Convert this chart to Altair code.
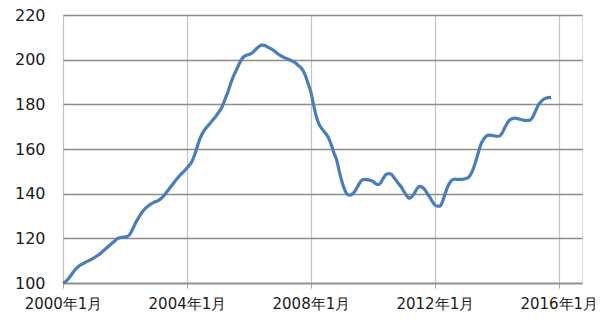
import altair as alt
import pandas as pd

# Monthly index values, Jan 2000 .. Oct 2015
v2000 = [100.0, 100.6, 101.8, 103.3, 104.9, 106.3, 107.4, 108.2, 108.8, 109.5, 110.0, 110.6]
v2001 = [111.3, 112.0, 112.8, 113.8, 114.8, 115.8, 116.8, 117.8, 118.8, 119.8, 120.3, 120.5]
v2002 = [120.6, 120.9, 122.0, 124.2, 126.6, 128.7, 130.6, 132.2, 133.5, 134.5, 135.3, 136.0]
v2003 = [136.5, 137.0, 137.8, 139.0, 140.5, 142.0, 143.5, 145.0, 146.5, 147.8, 149.0, 150.2]
v2004 = [151.5, 152.8, 154.5, 157.5, 161.0, 164.5, 167.0, 168.8, 170.2, 171.5, 173.0, 174.3]
v2005 = [176.0, 177.5, 180.0, 183.0, 186.0, 189.5, 192.5, 195.0, 197.5, 199.8, 201.3, 202.0]
v2006 = [202.3, 202.8, 203.8, 205.0, 206.0, 206.5, 206.4, 205.8, 205.2, 204.6, 203.8, 202.8]
v2007 = [202.0, 201.3, 200.8, 200.3, 199.8, 199.3, 198.6, 197.5, 196.6, 195.0, 192.5, 189.0]
v2008 = [185.5, 180.0, 175.0, 171.5, 169.5, 168.0, 166.5, 164.5, 161.5, 158.0, 155.0, 150.0]
v2009 = [145.5, 142.0, 139.8, 139.3, 139.8, 141.0, 143.0, 145.0, 146.2, 146.4, 146.2, 146.0]
v2010 = [145.5, 144.6, 144.0, 144.8, 146.8, 148.5, 149.0, 148.8, 147.5, 146.0, 144.4, 143.0]
v2011 = [141.0, 139.3, 138.0, 138.5, 140.0, 142.0, 143.3, 143.0, 142.0, 140.2, 138.5, 136.5]
v2012 = [135.0, 134.4, 134.4, 136.5, 140.0, 143.2, 145.2, 146.3, 146.5, 146.3, 146.4, 146.5]
v2013 = [146.8, 147.2, 148.8, 151.5, 155.0, 159.0, 162.5, 164.5, 165.8, 166.2, 166.1, 165.9]
v2014 = [165.7, 165.8, 167.0, 169.3, 171.5, 173.0, 173.6, 173.8, 173.6, 173.3, 173.0, 172.8]
v2015 = [172.8, 173.0, 174.5, 177.0, 179.5, 181.0, 182.2, 182.7, 183.0, 183.1]

years = list(range(2000, 2016))
series = [v2000, v2001, v2002, v2003, v2004, v2005, v2006, v2007,
          v2008, v2009, v2010, v2011, v2012, v2013, v2014, v2015]

tick_months = [0, 48, 96, 144, 192]
y_ticks = [100, 120, 140, 160, 180, 200, 220]

rows = []
for yr, vals in zip(years, series):
    for m, val in enumerate(vals):
        rows.append({"t": (yr - 2000) * 12 + m, "value": val})
df = pd.DataFrame(rows)

chart = alt.Chart(df).mark_line(color="#4A7EBB", strokeWidth=3.2, interpolate="monotone").encode(
    x=alt.X("t:Q",
            scale=alt.Scale(domain=[0, 201], nice=False, zero=False),
            axis=alt.Axis(values=tick_months, title=None,
                          labelExpr="(2000 + datum.value / 12) + '年1月'",
                          labelFont="DejaVu Sans", labelFontSize=15, labelColor="#1a1a1a",
                          labelPadding=8, tickSize=5, tickColor="#a6a6a6",
                          grid=True, gridColor="#c4c4c4", gridWidth=1.2,
                          domain=True, domainColor="#8c8c8c", domainWidth=1.3,
                          labelOverlap=False, labelFlush=False)),
    y=alt.Y("value:Q",
            scale=alt.Scale(domain=[100, 220], nice=False, zero=False),
            axis=alt.Axis(values=y_ticks, title=None,
                          labelFont="DejaVu Sans", labelFontSize=16, labelColor="#1a1a1a",
                          labelPadding=18, tickSize=0,
                          grid=True, gridColor="#8c8c8c", gridWidth=1.3,
                          domain=False)),
).properties(
    width=519, height=268,
    autosize=alt.AutoSizeParams(type="none"),
    padding={"left": 63, "top": 15, "right": 18, "bottom": 39},
).configure_view(stroke=None).configure(background="white")

chart.save("out.html", embed_options={"renderer": "svg", "actions": False})
